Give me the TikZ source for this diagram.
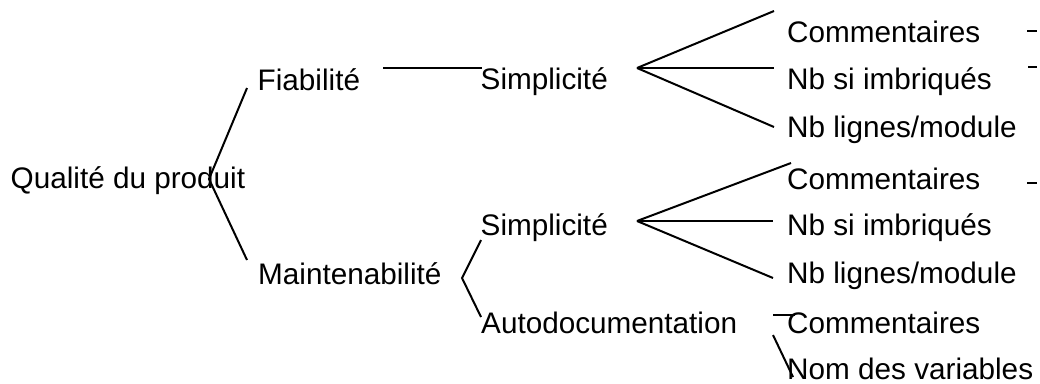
\documentclass[tikz,border=0pt]{standalone}
\usepackage{fontspec}
\setmainfont{Liberation Sans}
\begin{document}
\begin{tikzpicture}[x=1pt,y=-1pt,
  lbl/.style={anchor=base west,inner sep=0pt,font=\fontsize{29.7}{34}\selectfont},
  conn/.style={draw=black,line width=2pt}]
\useasboundingbox (0,0) rectangle (1040,383);
% texts
\node[lbl] (q)  at (10.5,188) {Qualité du produit};
\node[lbl] (fi) at (257.5,90) {Fiabilité};
\node[lbl] (ma) at (258,284) {Maintenabilité};
\node[lbl] (s1) at (480.5,89) {Simplicité};
\node[lbl] (s2) at (480.5,235) {Simplicité};
\node[lbl] (ad) at (481,333) {Autodocumentation};
\node[lbl] (c1) at (787,42) {Commentaires};
\node[lbl] (n1) at (787,89) {Nb si imbriqués};
\node[lbl] (l1) at (787,137) {Nb lignes/module};
\node[lbl] (c2) at (787,189) {Commentaires};
\node[lbl] (n2) at (787,235) {Nb si imbriqués};
\node[lbl] (l2) at (787,283) {Nb lignes/module};
\node[lbl] (c3) at (787,333) {Commentaires};
\node[lbl] (nv) at (787,379.5) {Nom des variables};
% connection points
\coordinate (qv) at (209,179);
\coordinate (fiin) at (247,88);
\coordinate (main) at (247,260);
\coordinate (fiout) at (383,68);
\coordinate (s1in) at (482,68);
\coordinate (s1v) at (637,68);
\coordinate (c1in) at (774,11);
\coordinate (n1in) at (774,68);
\coordinate (l1in) at (774,127);
\coordinate (mav) at (462,278);
\coordinate (s2in) at (481,240);
\coordinate (adin) at (481,317);
\coordinate (s2v) at (637,221);
\coordinate (c2in) at (791,163);
\coordinate (n2in) at (773,221);
\coordinate (l2in) at (773,278);
\coordinate (ada) at (773,315);
\coordinate (c3in) at (795,315);
\coordinate (adb) at (773,335);
\coordinate (nvin) at (793,377);
\coordinate (d1a) at (1027,31);  \coordinate (d1b) at (1037,31);
\coordinate (d2a) at (1028,67);  \coordinate (d2b) at (1037,67);
\coordinate (d3a) at (1027,183); \coordinate (d3b) at (1037,183);
% connectors
\draw[conn] (fiin) -- (qv) -- (main);
\draw[conn] (fiout) -- (s1in);
\draw[conn] (s1v) -- (c1in);
\draw[conn] (s1v) -- (n1in);
\draw[conn] (s1v) -- (l1in);
\draw[conn] (s2in) -- (mav) -- (adin);
\draw[conn] (s2v) -- (c2in);
\draw[conn] (s2v) -- (n2in);
\draw[conn] (s2v) -- (l2in);
\draw[conn] (ada) -- (c3in);
\draw[conn] (adb) -- (nvin);
\draw[conn] (d1a) -- (d1b);
\draw[conn] (d2a) -- (d2b);
\draw[conn] (d3a) -- (d3b);
\end{tikzpicture}
\end{document}
